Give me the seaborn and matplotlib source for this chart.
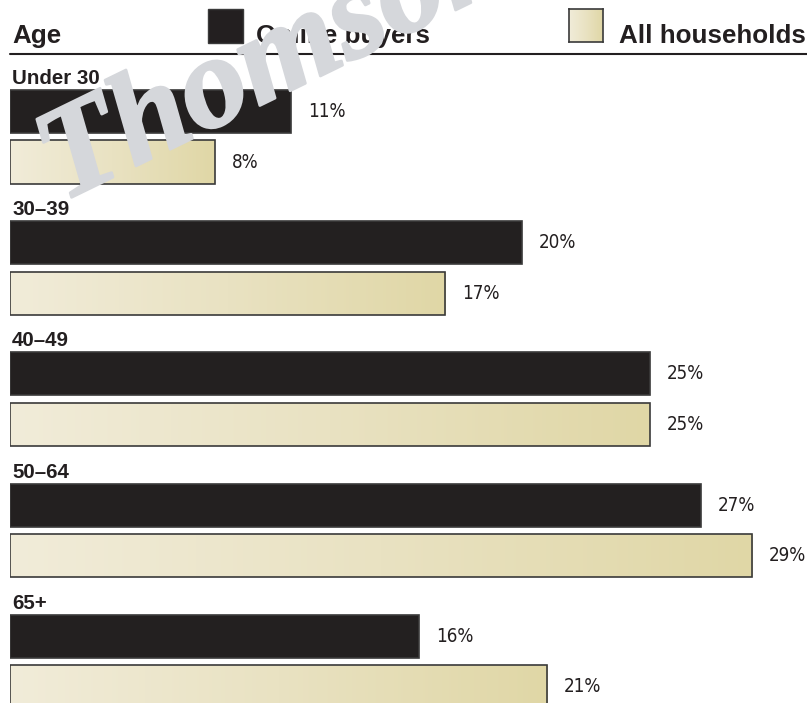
import numpy as np
import pandas as pd
import matplotlib
matplotlib.use("Agg")
import matplotlib.pyplot as plt
import matplotlib.patheffects as pe
from matplotlib.patches import Rectangle
from matplotlib.colors import LinearSegmentedColormap
from matplotlib import font_manager
import seaborn as sns

# ---- data ----
ages = ["Under 30", "30–39", "40–49", "50–64", "65+"]
online_buyers = [11, 20, 25, 27, 16]
all_households = [8, 17, 25, 29, 21]
series_names = ["Online buyers", "All households"]

df = pd.DataFrame({
    "age": ages * 2,
    "value": online_buyers + all_households,
    "series": [series_names[0]] * len(ages) + [series_names[1]] * len(ages),
})

sns.set_theme(style="white")
plt.rcParams["font.family"] = ["Liberation Sans", "DejaVu Sans"]

# condensed face for the percentage labels, if one is installed
cond_prop = None
for f in font_manager.fontManager.ttflist:
    if f.name == "DejaVu Sans" and f.stretch == "condensed" and f.style == "normal" and f.weight in (400, "normal"):
        cond_prop = font_manager.FontProperties(fname=f.fname, size=13.5)
        break
if cond_prop is None:
    cond_prop = font_manager.FontProperties(family=["DejaVu Sans"], stretch="condensed", size=12.5)

W, H = 807, 703
fig = plt.figure(figsize=(W / 100, H / 100), dpi=100)
fig.patch.set_facecolor("white")

def fx(x):
    return x / W

def fy(y):
    return 1 - y / H

BLACK = "#231f20"
EDGE = "#3a3a3a"
grad_cmap = LinearSegmentedColormap.from_list("beige", ["#f1ecd9", "#e9e2c2", "#e0d7a6"])

scale = 25.59
ax = fig.add_axes([fx(10), 0, (W - 10) / W, 1])
sns.barplot(data=df, x="value", y="age", hue="series", orient="h",
            palette={series_names[0]: BLACK, series_names[1]: "#e9e2c2"},
            width=0.77, gap=0.148, edgecolor=EDGE, linewidth=1.2,
            legend=False, ax=ax)

unit = 131.2
c0 = 136.75
ylim = ((H - c0) / unit, -c0 / unit)
xlim = (0, (W - 10) / scale)

grad = np.linspace(0, 1, 256).reshape(1, -1)
black_bars = ax.containers[0]
light_bars = ax.containers[1]
for p in light_bars:
    x0, y0, w, h = p.get_x(), p.get_y(), p.get_width(), p.get_height()
    p.set_facecolor("none")
    p.set_zorder(3)
    im = ax.imshow(grad, extent=[x0, x0 + w, y0 + h, y0], aspect="auto",
                   cmap=grad_cmap, zorder=2, interpolation="bilinear")
    im.set_clip_path(p)

for cont, vals in ((black_bars, online_buyers), (light_bars, all_households)):
    for p, v in zip(cont, vals):
        yc = p.get_y() + p.get_height() / 2
        ax.annotate(f"{v}%", xy=(v, yc), xytext=(12, 0), textcoords="offset points",
                    ha="left", va="center", color=BLACK, fontproperties=cond_prop)

for p, lab in zip(black_bars, ages):
    ax.text(0.08, p.get_y() - 6 / unit, lab, ha="left", va="baseline",
            fontsize=14.8, fontweight="bold", color=BLACK)

ax.set_xlim(*xlim)
ax.set_ylim(*ylim)
ax.set_axis_off()

# ---- header ----
fig.text(fx(12), fy(43), "Age", ha="left", va="baseline", fontsize=18.7,
         fontweight="bold", color=BLACK, zorder=2)
fig.patches.append(Rectangle((fx(208), fy(43)), fx(35), 34 / H, transform=fig.transFigure,
                             facecolor=BLACK, edgecolor=EDGE, linewidth=1, zorder=2))
fig.text(fx(256), fy(43), series_names[0], ha="left", va="baseline", fontsize=18.7,
         fontweight="bold", color=BLACK, zorder=2)
lax = fig.add_axes([fx(569), fy(42), fx(34), 33 / H])
lax.imshow(grad, aspect="auto", cmap=grad_cmap, extent=[0, 1, 0, 1], interpolation="bilinear")
lax.set_xticks([]); lax.set_yticks([])
for s in lax.spines.values():
    s.set_color(EDGE); s.set_linewidth(1.2); s.set_visible(True)
fig.text(fx(619), fy(43), series_names[1], ha="left", va="baseline", fontsize=18.7,
         fontweight="bold", color=BLACK, zorder=2)
fig.add_artist(plt.Line2D([fx(10), 1], [fy(53.5), fy(53.5)], transform=fig.transFigure,
                          color=BLACK, linewidth=1.5, zorder=2))

# ---- watermark ----
WM = "#d5d7db"
fig.text(fx(62), fy(202), "Thomson", rotation=26, rotation_mode="anchor",
         ha="left", va="baseline", fontsize=94, family=["Liberation Serif", "DejaVu Serif"],
         fontweight="bold", fontstyle="italic", color=WM, zorder=10,
         path_effects=[pe.withStroke(linewidth=2, foreground=WM)])

fig.savefig("out.png", dpi=100, facecolor="white")
